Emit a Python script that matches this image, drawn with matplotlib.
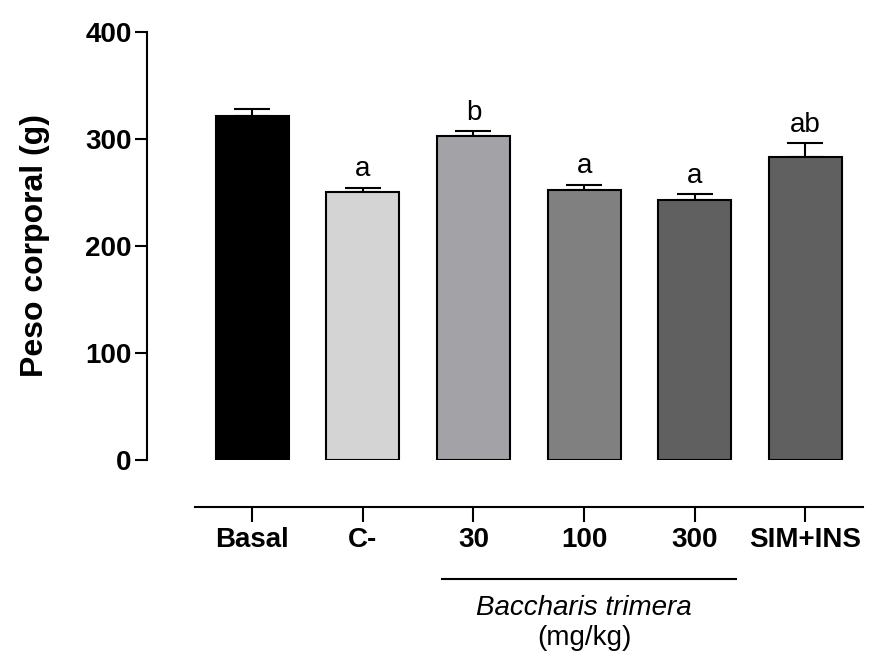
import numpy as np
import matplotlib
matplotlib.use("Agg")
import matplotlib.pyplot as plt

plt.rcParams['font.family'] = ['Liberation Sans', 'DejaVu Sans']

grupos = ["Basal", "C-", "30", "100", "300", "SIM+INS"]
peso = [321, 250, 303, 252, 243, 283]
erro = [7, 4, 4, 5, 5, 13]
letras = ["", "a", "b", "a", "a", "ab"]
cores = ["#000000", "#d4d4d4", "#a3a3a7", "#808080", "#606060", "#606060"]

fig = plt.figure(figsize=(8.75, 6.62), dpi=100)
ax = fig.add_axes([0.168, 0.3051, 0.8183, 0.647])

# eixos estilo prism (eixo x separado)
ax.spines["top"].set_visible(False)
ax.spines["right"].set_visible(False)
ax.spines["left"].set_linewidth(1.5)
ax.spines["bottom"].set_linewidth(1.5)
ax.spines["bottom"].set_position(("outward", 34))
ax.spines["bottom"].set_bounds(-0.52, 5.52)

x = np.arange(len(grupos))
ax.bar(x, peso, width=0.66, color=cores, edgecolor="black", linewidth=1.5, zorder=2)
ax.errorbar(x, peso, yerr=[np.zeros(len(erro)), erro], fmt="none", ecolor="black",
            elinewidth=1.5, capsize=13, capthick=1.5, zorder=1)

for i in range(len(grupos)):
    if letras[i]:
        ax.annotate(letras[i], (x[i], peso[i] + erro[i]), xytext=(0, 4),
                    textcoords="offset points", ha="center", va="bottom", fontsize=20)

ax.set_xlim(-0.95, 5.52)
ax.set_ylim(0, 400)
ax.set_yticks([0, 100, 200, 300, 400])
ax.set_xticks(x)
ax.set_xticklabels(grupos, fontsize=20, fontweight="bold")
for lab in ax.get_yticklabels():
    lab.set_fontsize(20)
    lab.set_fontweight("bold")

ax.tick_params(axis="y", length=9, width=1.5, pad=2)
ax.tick_params(axis="x", length=11, width=1.5, pad=3)

ax.set_ylabel("Peso corporal (g)", fontsize=23, fontweight="bold", labelpad=25)

# barra do extrato
ax.plot([1.72, 4.37], [-111, -111], color="black", linewidth=1.5, clip_on=False)
ax.text(3, -138, "Baccharis trimera", fontsize=20, style="italic", ha="center", va="center")
ax.text(3, -166, "(mg/kg)", fontsize=20, ha="center", va="center")

plt.savefig("out.png", dpi=100)
